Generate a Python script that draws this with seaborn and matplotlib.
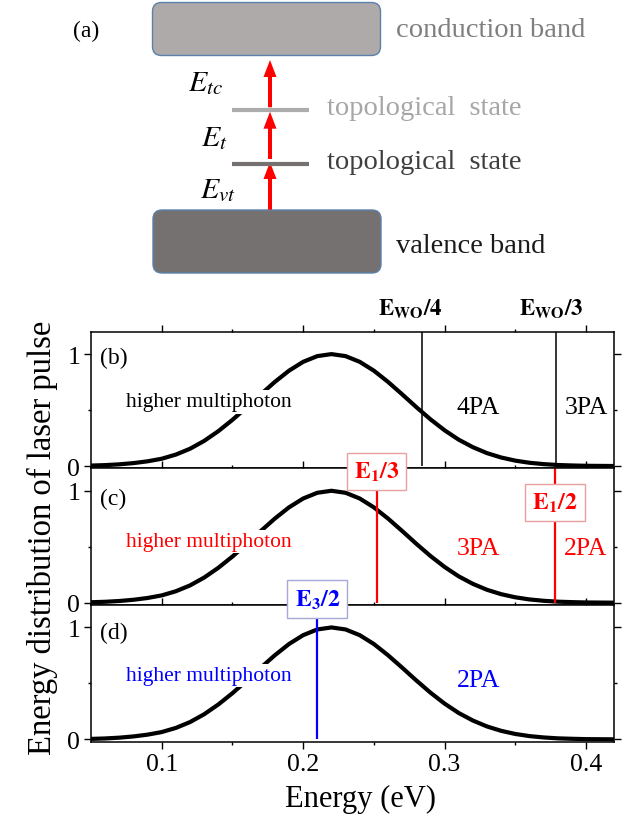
import matplotlib
matplotlib.use('Agg')
import matplotlib.pyplot as plt
import seaborn as sns
import pandas as pd
from matplotlib.patches import FancyBboxPatch, FancyArrow

# ---------------- data ----------------
energy = [0.05, 0.06, 0.07, 0.08, 0.09, 0.10, 0.11, 0.12, 0.13, 0.14,
          0.15, 0.16, 0.17, 0.18, 0.19, 0.20, 0.21, 0.22, 0.23, 0.24,
          0.25, 0.26, 0.27, 0.28, 0.29, 0.30, 0.31, 0.32, 0.33, 0.34,
          0.35, 0.36, 0.37, 0.38, 0.39, 0.40, 0.41, 0.42]
distribution = [0.005, 0.009, 0.016, 0.027, 0.043, 0.066, 0.103, 0.155, 0.225, 0.312,
                0.413, 0.524, 0.640, 0.752, 0.852, 0.931, 0.982, 1.000, 0.982, 0.931,
                0.852, 0.752, 0.641, 0.527, 0.418, 0.320, 0.236, 0.169, 0.116, 0.077,
                0.049, 0.030, 0.018, 0.010, 0.006, 0.003, 0.002, 0.001]

thresholds_b = [0.284, 0.379]          # E_WO/4, E_WO/3
thresholds_c = [0.252, 0.378]          # E_1/3, E_1/2
thresholds_d = [0.210]                 # E_3/2
labels_b = [r'$\mathbf{E}_{\mathbf{WO}}\mathbf{/4}$', r'$\mathbf{E}_{\mathbf{WO}}\mathbf{/3}$']
labels_c = [r'$\mathbf{E}_{\mathbf{1}}\mathbf{/3}$', r'$\mathbf{E}_{\mathbf{1}}\mathbf{/2}$']
labels_d = [r'$\mathbf{E}_{\mathbf{3}}\mathbf{/2}$']
regions_b = ['4PA', '3PA']
regions_c = ['3PA', '2PA']
regions_d = ['2PA']
panel_tags = ['(b)', '(c)', '(d)']
panel_colors = ['black', '#ff0000', '#0000ff']
xticks_major = [0.1, 0.2, 0.3, 0.4]
xticks_minor = [0.15, 0.25, 0.35]

df = pd.DataFrame({'energy': energy, 'dist': distribution})

# ---------------- style ----------------
sns.set_theme(style='ticks')
plt.rcParams['font.family'] = ['Liberation Serif', 'DejaVu Serif']
plt.rcParams['mathtext.fontset'] = 'stix'
plt.rcParams['axes.edgecolor'] = 'black'
plt.rcParams['axes.linewidth'] = 1.1
plt.rcParams['xtick.color'] = 'black'
plt.rcParams['ytick.color'] = 'black'
plt.rcParams['text.color'] = 'black'

W, H = 630, 820
fig = plt.figure(figsize=(6.3, 8.2), dpi=100)

# ---------------- panel (a): schematic ----------------
ax_a = fig.add_axes([0, 1 - 300 / H, 1, 300 / H])
ax_a.set_xlim(0, W)
ax_a.set_ylim(300, 0)
ax_a.axis('off')

ax_a.add_patch(FancyBboxPatch((152.5, 3.5), 228, 53, boxstyle='round,pad=0,rounding_size=9',
                              fc='#aeaaaa', ec='#5b80aa', lw=1))
ax_a.add_patch(FancyBboxPatch((153, 211), 228, 63, boxstyle='round,pad=0,rounding_size=9',
                              fc='#757171', ec='#5b80aa', lw=1))
ax_a.plot([232, 309], [111, 111], color='#acacac', lw=3, solid_capstyle='butt')
ax_a.plot([232, 309], [165.3, 165.3], color='#767171', lw=3, solid_capstyle='butt')
for y0, y1 in [(210.7, 163), (160, 112.7), (108.3, 61)]:
    ax_a.add_patch(FancyArrow(270, y0, 0, y1 - y0, width=4, head_width=13, head_length=17,
                              length_includes_head=True, color='#ff0000', lw=0))

ax_a.text(73, 37.3, '(a)', fontsize=17, ha='left', va='baseline')
ax_a.text(396, 37.3, 'conduction band', fontsize=20.5, color='#7f7f7f', ha='left', va='baseline')
ax_a.text(326.7, 115, 'topological  state', fontsize=20.5, color='#a6a6a6', ha='left', va='baseline')
ax_a.text(326.7, 169.3, 'topological  state', fontsize=20.5, color='#3f3f3f', ha='left', va='baseline')
ax_a.text(396, 253.3, 'valence band', fontsize=20.5, color='#1a1a1a', ha='left', va='baseline')
ax_a.text(188.5, 90.7, r'$E_{tc}$', fontsize=21.5, ha='left', va='baseline')
ax_a.text(201, 146, r'$E_{t}$', fontsize=21.5, ha='left', va='baseline')
ax_a.text(200, 198.3, r'$E_{vt}$', fontsize=21.5, ha='left', va='baseline')

# ---------------- panels (b)-(d) ----------------
gs = fig.add_gridspec(3, 1, left=91 / W, right=614.3 / W, top=1 - 332.7 / H,
                      bottom=1 - 742.7 / H, hspace=0)
axes = [fig.add_subplot(gs[i]) for i in range(3)]

for i, ax in enumerate(axes):
    sns.lineplot(data=df, x='energy', y='dist', ax=ax, color='black', lw=3, zorder=2)
    ax.set_xlim(0.05, 0.42)
    ax.set_ylim(-0.02, 1.2)
    ax.set_yticks([0, 1])
    ax.set_yticklabels(['0', '1'])
    ax.set_yticks([0.5], minor=True)
    ax.set_xticks(xticks_major)
    ax.set_xticks(xticks_minor, minor=True)
    ax.set_xticklabels(['0.1', '0.2', '0.3', '0.4'])
    ax.tick_params(which='both', direction='out', top=True, right=True, labelsize=18.5, width=1)
    ax.tick_params(which='major', length=4.8, pad=3)
    ax.tick_params(which='minor', length=2.2)
    ax.set_xlabel('')
    ax.set_ylabel('')
    if i < 2:
        ax.tick_params(labelbottom=False)
    col = panel_colors[i]
    ax.text(0.0564, [0.97, 0.93, 0.955][i], panel_tags[i], fontsize=17, ha='left', va='center')
    ax.text(0.075, [0.573, 0.545, 0.57][i], 'higher multiphoton', fontsize=15.5, color=col,
            ha='left', va='center', zorder=3,
            bbox=dict(boxstyle='square,pad=0.1', fc='white', ec='none'))

ax_b, ax_c, ax_d = axes

# (b)
ax_b.vlines(thresholds_b, 0, 1.2, color='black', lw=1.1, zorder=2.5)
for x, lab in zip([0.276, 0.375], labels_b):
    ax_b.text(x, 1.358, lab, fontsize=16.5, ha='center', va='baseline', clip_on=False)
for x, lab in zip([0.324, 0.400], regions_b):
    ax_b.text(x, 0.53, lab, fontsize=18.5, ha='center', va='center')

# (c)
ax_c.vlines(thresholds_c, 0, 1.2, color='#ff0000', lw=1.6, zorder=2.5)
for x, y, lab in zip(thresholds_c, [1.174, 0.896], labels_c):
    ax_c.text(x, y, lab, fontsize=17, color='#ff0000', ha='center', va='center', clip_on=False,
              zorder=10, bbox=dict(boxstyle='square,pad=0.3', fc='white', ec='#e8a0a0', lw=1))
for x, lab in zip([0.324, 0.400], regions_c):
    ax_c.text(x, 0.49, lab, fontsize=18.5, color='#ff0000', ha='center', va='center')

# (d)
ax_d.vlines(thresholds_d, 0, 1.2, color='#0000ff', lw=1.6, zorder=2.5)
for x, y, lab in zip(thresholds_d, [1.252], labels_d):
    ax_d.text(x, y, lab, fontsize=17, color='#0000ff', ha='center', va='center', clip_on=False,
              zorder=10, bbox=dict(boxstyle='square,pad=0.3', fc='white', ec='#a8a8d8', lw=1))
for x, lab in zip([0.324], regions_d):
    ax_d.text(x, 0.53, lab, fontsize=18.5, color='#0000ff', ha='center', va='center')

fig.text(42.5 / W, 1 - 537.5 / H, 'Energy distribution of laser pulse', rotation=90,
         fontsize=23.5, ha='center', va='center')
fig.text(360.8 / W, 1 - 807 / H, 'Energy (eV)', fontsize=22, ha='center', va='baseline')

fig.savefig('out.png', dpi=100)
